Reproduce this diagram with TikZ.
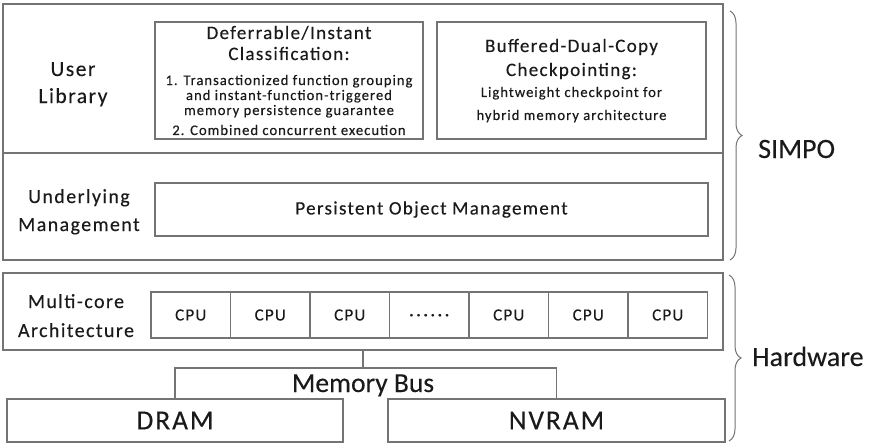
\documentclass[tikz,border=0pt]{standalone}
\usepackage{fontspec}
\setmainfont{Carlito}[FakeBold=0.2]
\newfontfamily\trk{Carlito}[LetterSpace=7,FakeBold=0.2]
\usetikzlibrary{decorations.pathreplacing}
\definecolor{lg}{HTML}{747474}
\definecolor{tx}{HTML}{1A1A1A}
\begin{document}
\begin{tikzpicture}[x=1pt,y=-1pt,
  box/.style={draw=lg,line width=1.4pt,inner sep=0pt,outer sep=0pt,anchor=north west,text=tx},
  lbl/.style={text=tx,inner sep=0pt,anchor=base},
  side/.style={lbl,font=\trk\fontsize{20}{24}\selectfont},
  ttl/.style={lbl,font=\trk\fontsize{19}{22}\selectfont},
  sml/.style={lbl,font=\trk\fontsize{14.6}{17}\selectfont},
  cpubox/.style={box,minimum width=79.5pt,minimum height=46pt,font=\trk\fontsize{17}{20}\selectfont},
  memtxt/.style={box,font=\trk\fontsize{27.5}{32}\selectfont},
  big/.style={lbl,anchor=base west,font=\fontsize{28}{32}\selectfont},
  conn/.style={draw=lg,line width=1.4pt},
  brc/.style={draw=lg,line width=1pt,decorate,decoration={brace,amplitude=12pt}}]
\useasboundingbox (0,0) rectangle (871,444);
\fill[white] (0,0) rectangle (871,444);

% outer layers
\node[box,minimum width=720pt,minimum height=149pt] (ul) at (3,4) {};
\node[box,minimum width=720pt,minimum height=107pt] (um) at (3,153) {};
\node[box,minimum width=720pt,minimum height=77pt] (hw) at (3,273) {};

% user library
\node[side,font=\trk\fontsize{21.5}{24}\selectfont] (ul1) at (73,76) {User};
\node[side,font=\trk\fontsize{21.5}{24}\selectfont] (ul2) at (73,103) {Library};

\node[box,minimum width=268pt,minimum height=117pt] (defer) at (155,22) {};
\node[ttl] (dt1) at (289,39) {Deferrable/Instant};
\node[ttl] (dt2) at (289,60) {Classification:};
\node[sml] (ds1) at (289,85) {1. Transactionized function grouping};
\node[sml] (ds2) at (289,100) {and instant-function-triggered};
\node[sml] (ds3) at (289,115) {memory persistence guarantee};
\node[sml] (ds4) at (289,135) {2. Combined concurrent execution};

\node[box,minimum width=269pt,minimum height=117pt] (bdc) at (437,22) {};
\node[ttl] (bt1) at (571.5,52) {Buffered-Dual-Copy};
\node[ttl] (bt2) at (571.5,76) {Checkpointing:};
\node[sml] (bs1) at (571.5,97) {Lightweight checkpoint for};
\node[sml] (bs2) at (571.5,120) {hybrid memory architecture};

% underlying management
\node[side] (um1) at (79,203) {Underlying};
\node[side] (um2) at (79,231) {Management};
\node[box,minimum width=553pt,minimum height=53pt,font=\trk\fontsize{19}{22}\selectfont] (pom) at (155,183) {Persistent Object Management};

% hardware
\node[side] (hw1) at (76,308) {Multi-core};
\node[side] (hw2) at (76,337) {Architecture};
\node[cpubox] (c0) at (151,292) {CPU};
\node[cpubox] (c1) at (230.5,292) {CPU};
\node[cpubox] (c2) at (310,292) {CPU};
\node[cpubox] (c3) at (389.5,292) {\raisebox{-5pt}[0pt][0pt]{·\,·\,·\,·\,·\,·}};
\node[cpubox] (c4) at (469,292) {CPU};
\node[cpubox] (c5) at (548.5,292) {CPU};
\node[cpubox] (c6) at (628,292) {CPU};

\node[memtxt,minimum width=336pt,minimum height=43pt] (dram) at (7,399) {DRAM};
\node[memtxt,minimum width=337pt,minimum height=43pt] (nvram) at (388,399) {NVRAM};
\coordinate (bus) at (363,368);
\draw[conn] (hw.south -| bus) -- (bus);
\draw[conn] (dram.north) |- (bus) -| (nvram.north);
\node[lbl,font=\fontsize{27.5}{32}\selectfont] (mb) at (363,392) {Memory Bus};

% braces
\coordinate (b1) at (730,11);
\coordinate (b2) at (730,260);
\coordinate (b3) at (729,275);
\coordinate (b4) at (729,441);
\draw[brc] (b1) -- (b2);
\draw[brc] (b3) -- (b4);
\node[big] (simpo) at (758,158) {SIMPO};
\node[big] (hwt) at (752,366) {Hardware};
\end{tikzpicture}
\end{document}
